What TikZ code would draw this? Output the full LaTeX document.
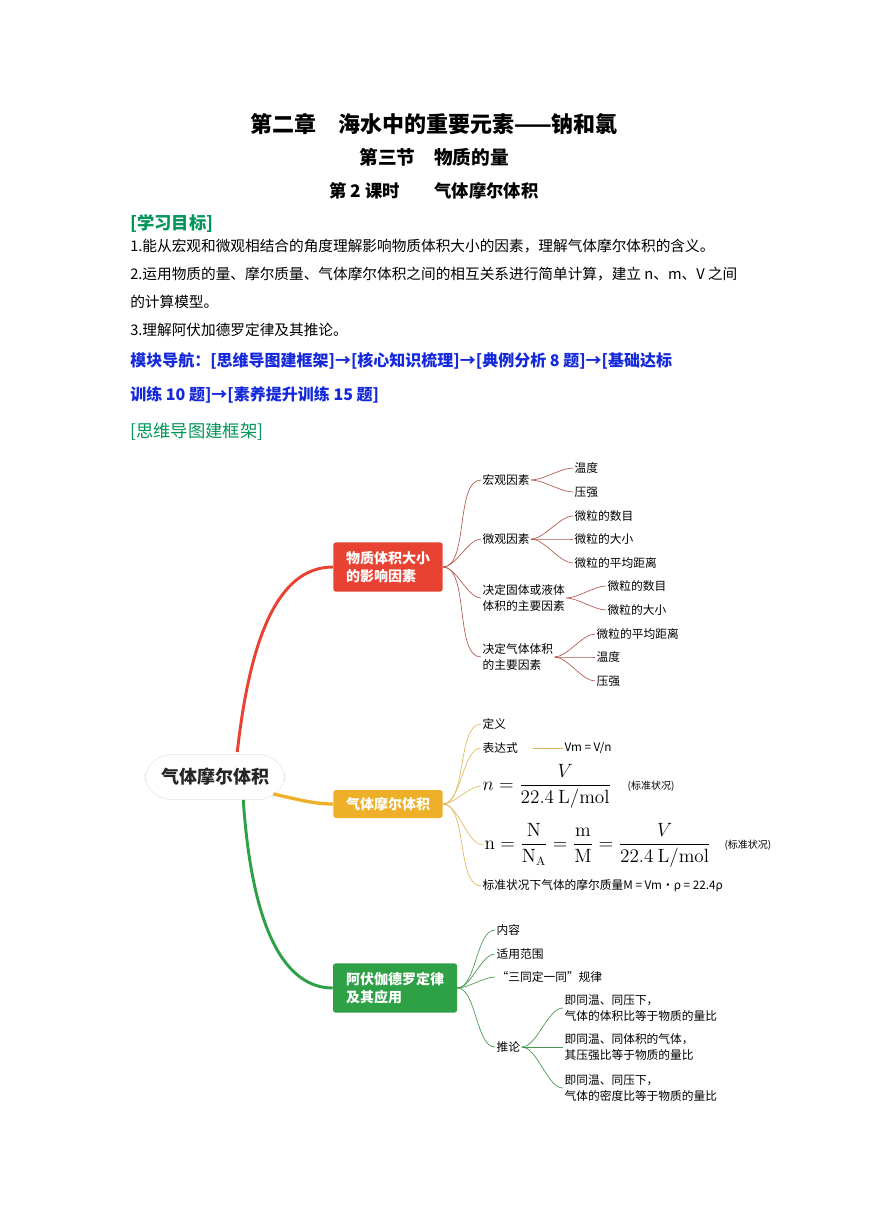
\documentclass[tikz,border=0pt]{standalone}
\usepackage[no-math]{fontspec}
\setmainfont{Noto Sans CJK SC}
\usepackage{amsmath}
\usetikzlibrary{positioning}
\definecolor{hdgreen}{RGB}{0,150,90}
\definecolor{navblue}{RGB}{20,40,220}
\definecolor{cred}{RGB}{232,66,50}
\definecolor{corange}{RGB}{238,176,40}
\definecolor{cgreen}{RGB}{46,160,70}
\definecolor{lred}{RGB}{180,90,80}
\definecolor{lorange}{RGB}{225,185,90}
\definecolor{lgreen}{RGB}{70,150,80}
\tikzset{
  hd/.style={font=\fontsize{16.5}{20}\selectfont\bfseries},
  txt/.style={anchor=west,inner sep=0pt,font=\fontsize{11}{13}\selectfont},
  leaf/.style={anchor=west,inner sep=1pt,align=left,font=\fontsize{8.8}{11.5}\selectfont},
  box/.style={rounded corners=2pt,text=white,align=left,inner sep=5pt,
    font=\fontsize{10.5}{13}\selectfont\bfseries},
  br/.style={line width=0.5pt,out=0,in=180,looseness=0.7},
}
\begin{document}
\begin{tikzpicture}[x=0.75pt,y=-0.75pt]
\useasboundingbox (0,0) rectangle (868,1227);
% header
\node[hd] (t1) at (434,124) {第二章\quad 海水中的重要元素——钠和氯};
\node[hd,font=\fontsize{14}{17}\selectfont\bfseries] (t2) at (434,157) {第三节\quad 物质的量};
\node[hd,font=\fontsize{13}{16}\selectfont\bfseries] (t3) at (434,191) {第 2 课时\qquad 气体摩尔体积};
\node[txt,text=hdgreen,font=\fontsize{13}{16}\selectfont\bfseries] (goal) at (130,224) {[学习目标]};
\node[txt] (g1) at (130,246) {1.能从宏观和微观相结合的角度理解影响物质体积大小的因素，理解气体摩尔体积的含义。};
\node[txt] (g2) at (130,274) {2.运用物质的量、摩尔质量、气体摩尔体积之间的相互关系进行简单计算，建立 n、m、V 之间};
\node[txt] (g2b) at (130,302) {的计算模型。};
\node[txt] (g3) at (130,330) {3.理解阿伏加德罗定律及其推论。};
\node[txt,text=navblue,font=\fontsize{12}{15}\selectfont\bfseries] (nav1) at (130,361) {模块导航：[思维导图建框架]→[核心知识梳理]→[典例分析 8 题]→[基础达标};
\node[txt,text=navblue,font=\fontsize{12}{15}\selectfont\bfseries] (nav2) at (130,395) {训练 10 题]→[素养提升训练 15 题]};
\node[txt,text=hdgreen,font=\fontsize{13}{16}\selectfont] (map) at (130,432) {[思维导图建框架]};

% main nodes
\node[draw=black!10,fill=white,rounded corners=20pt,minimum width=105pt,minimum height=34pt,
  font=\fontsize{13.5}{16}\selectfont\bfseries,text=black!85] (root) at (215,777) {气体摩尔体积};
\node[box,fill=cred,minimum width=82pt,minimum height=37pt] (vol) at (388,567) {物质体积大小\\的影响因素};
\node[box,fill=corange,minimum width=82pt,minimum height=21pt,align=center] (gas) at (388,804) {气体摩尔体积};
\node[box,fill=cgreen,minimum width=93pt,minimum height=37pt] (avo) at (395,988) {阿伏伽德罗定律\\及其应用};

\draw[cred,line width=2.2pt] (root.north east) ++(-48,-2) coordinate (r1);
\draw[cred,line width=2.2pt] (r1) .. controls (252,620) and (285,567) .. (vol.west);
\draw[corange,line width=2.5pt] (root.south east) ++(-12,-6) coordinate (r2);
\draw[corange,line width=2.5pt] (r2) .. controls (300,800) and (315,804) .. (gas.west);
\draw[cgreen,line width=2.2pt] (root.south east) ++(-42,0) coordinate (r3);
\draw[cgreen,line width=2.2pt] (r3) .. controls (252,930) and (285,988) .. (avo.west);

% branch 1
\node[leaf] (hg) at (481,480) {宏观因素};
\node[leaf] (wg) at (481,539) {微观因素};
\node[leaf] (gt) at (481,598) {决定固体或液体\\体积的主要因素};
\node[leaf] (qt) at (481,657) {决定气体体积\\的主要因素};
\foreach \c in {hg,wg,gt,qt} \draw[lred,br] (vol.east) to (\c.west);
\node[leaf] (hg1) at (573,468) {温度};
\node[leaf] (hg2) at (573,492) {压强};
\foreach \c in {hg1,hg2} \draw[lred,br] (hg.east) to (\c.west);
\node[leaf] (wg1) at (573,516) {微粒的数目};
\node[leaf] (wg2) at (573,539) {微粒的大小};
\node[leaf] (wg3) at (573,563) {微粒的平均距离};
\foreach \c in {wg1,wg2,wg3} \draw[lred,br] (wg.east) to (\c.west);
\node[leaf] (gt1) at (606,586) {微粒的数目};
\node[leaf] (gt2) at (606,610) {微粒的大小};
\foreach \c in {gt1,gt2} \draw[lred,br] (gt.east) to (\c.west);
\node[leaf] (qt1) at (595,634) {微粒的平均距离};
\node[leaf] (qt2) at (595,657) {温度};
\node[leaf] (qt3) at (595,681) {压强};
\foreach \c in {qt1,qt2,qt3} \draw[lred,br] (qt.east) to (\c.west);

% branch 2
\node[leaf] (def) at (481,724) {定义};
\node[leaf] (expr) at (481,748) {表达式};
\node[leaf] (vm) at (563,748) {Vm = V/n};
\draw[lorange,line width=0.5pt] (expr.east) ++(14,0) -- (vm.west);
\node[leaf,font=\fontsize{13.5}{15}\selectfont] (f1) at (481,786)
  {$\displaystyle n=\frac{V}{22.4\ \mathrm{L/mol}}$};
\node[leaf,font=\fontsize{7.5}{9}\selectfont,right=10pt of f1] (s1) {(标准状况)};
\node[leaf,font=\fontsize{13.5}{15}\selectfont] (f2) at (483,845)
  {$\displaystyle \mathrm{n}=\frac{\mathrm{N}}{\mathrm{N_A}}=\frac{\mathrm{m}}{\mathrm{M}}=\frac{V}{22.4\ \mathrm{L/mol}}$};
\node[leaf,font=\fontsize{7.5}{9}\selectfont,right=8pt of f2] (s2) {(标准状况)};
\node[leaf] (mm) at (481,886) {标准状况下气体的摩尔质量M = Vm·ρ = 22.4ρ};
\foreach \c in {def,expr,f1,f2,mm} \draw[lorange,br] (gas.east) to (\c.west);

% branch 3
\node[leaf] (nr) at (495,930) {内容};
\node[leaf] (fw) at (495,954) {适用范围};
\node[leaf] (sd) at (495,977) {“三同定一同”规律};
\node[leaf] (tl) at (495,1047) {推论};
\foreach \c in {nr,fw,sd,tl} \draw[lgreen,br] (avo.east) to (\c.west);
\node[leaf] (tl1) at (563,1008) {即同温、同压下，\\气体的体积比等于物质的量比};
\node[leaf] (tl2) at (563,1047) {即同温、同体积的气体，\\其压强比等于物质的量比};
\node[leaf] (tl3) at (563,1088) {即同温、同压下，\\气体的密度比等于物质的量比};
\foreach \c in {tl1,tl2,tl3} \draw[lgreen,br] (tl.east) to (\c.west);
\end{tikzpicture}
\end{document}
